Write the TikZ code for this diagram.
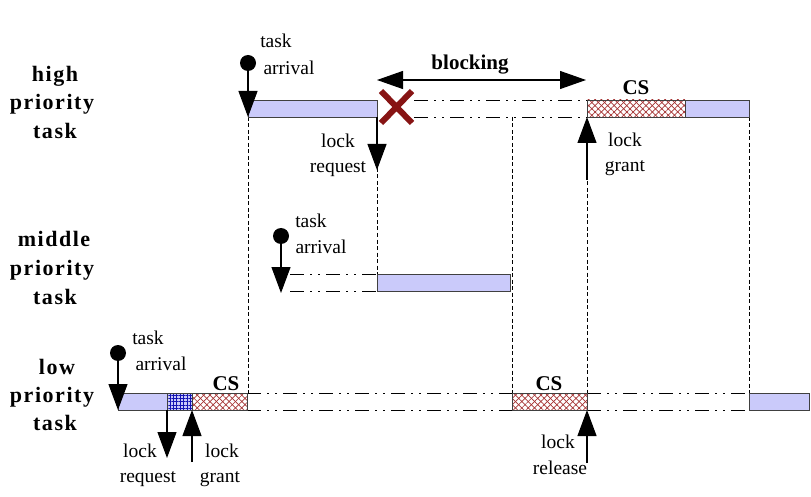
\documentclass[tikz,border=0pt]{standalone}
\usepackage{fontspec}
\setmainfont{Liberation Serif}
\usetikzlibrary{arrows.meta,patterns.meta}
\definecolor{barblue}{RGB}{202,202,250}
\definecolor{xred}{RGB}{135,20,20}
\definecolor{hatchred}{RGB}{165,50,50}
\definecolor{gridblue}{RGB}{20,20,180}
\begin{document}
\begin{tikzpicture}[x=1pt,y=-1pt,
  bar/.style={fill=barblue,draw=black!75,line width=0.8pt},
  csbar/.style={draw=black!75,line width=0.8pt,preaction={fill=white},
    preaction={pattern={Lines[angle=45,distance=4.5pt,line width=0.7pt]},pattern color=hatchred},
    preaction={pattern={Lines[angle=-45,distance=4.5pt,line width=0.7pt]},pattern color=hatchred}},
  gridbar/.style={draw=black!75,line width=0.8pt,preaction={fill=barblue},
    preaction={pattern={Lines[angle=0,distance=3.4pt,line width=0.7pt]},pattern color=gridblue},
    preaction={pattern={Lines[angle=90,distance=3.4pt,line width=0.7pt]},pattern color=gridblue}},
  sig/.style={line width=1.1pt,-{Triangle[length=26pt,width=19pt]}},
  ddot/.style={line width=0.9pt,dash pattern=on 14pt off 6pt on 2pt off 6pt on 2pt off 6pt},
  vdash/.style={line width=0.9pt,black,dash pattern=on 4pt off 2.5pt},
  lab/.style={font=\fontsize{19.5}{19.5}\selectfont,inner sep=0pt,anchor=base},
  bold/.style={font=\fontsize{21}{21}\selectfont\bfseries,inner sep=0pt,anchor=base},
  side/.style={font=\fontsize{22}{22}\selectfont\bfseries\addfontfeatures{LetterSpace=7},inner sep=0pt,anchor=base},
]
\useasboundingbox (0,0) rectangle (811,497);

% key coordinates
\coordinate (h1) at (248,100); \coordinate (h2) at (377,117);
\coordinate (hc1) at (587,100); \coordinate (hc2) at (685,117);
\coordinate (hb1) at (685,100); \coordinate (hb2) at (749,117);
\coordinate (m1) at (377,274); \coordinate (m2) at (510,291);
\coordinate (l1) at (118,393); \coordinate (l2) at (167,410);
\coordinate (lg1) at (167,393); \coordinate (lg2) at (192,410);
\coordinate (lc1) at (192,393); \coordinate (lc2) at (247,410);
\coordinate (lk1) at (512,393); \coordinate (lk2) at (587,410);
\coordinate (le1) at (749,393); \coordinate (le2) at (809,410);

% vertical dashed guides
\draw[vdash] (248,117) -- (248,393);
\draw[vdash] (377,168) -- (377,274);
\draw[vdash] (512,117) -- (512,393);
\draw[vdash] (587,175) -- (587,393);
\draw[vdash] (749,117) -- (749,393);

% dash-dot lines (waiting)
\draw[ddot] (414,100) -- (587,100);
\draw[ddot] (414,117) -- (587,117);
\draw[ddot] (290,274) -- (377,274);
\draw[ddot] (290,291) -- (377,291);
\draw[ddot] (247,393) -- (512,393);
\draw[ddot] (247,410) -- (512,410);
\draw[ddot] (587,393) -- (749,393);
\draw[ddot] (587,410) -- (749,410);

% bars
\draw[bar] (h1) rectangle (h2);
\draw[csbar] (hc1) rectangle (hc2);
\draw[bar] (hb1) rectangle (hb2);
\draw[bar] (m1) rectangle (m2);
\draw[bar] (l1) rectangle (l2);
\draw[gridbar] (lg1) rectangle (lg2);
\draw[csbar] (lc1) rectangle (lc2);
\draw[csbar] (lk1) rectangle (lk2);
\draw[bar] (le1) rectangle (le2);

% task arrivals
\coordinate (ha) at (248,63); \coordinate (hat) at (248,117);
\fill (ha) circle (8); \draw[sig] (ha) -- (hat);
\coordinate (ma) at (281,236); \coordinate (mat) at (281,293);
\fill (ma) circle (8); \draw[sig] (ma) -- (mat);
\coordinate (la) at (118,353); \coordinate (lat) at (118,410);
\fill (la) circle (8); \draw[sig] (la) -- (lat);

% lock arrows
\coordinate (hr0) at (377,117); \coordinate (hr1) at (377,170);
\draw[sig] (hr0) -- (hr1);
\coordinate (hg0) at (587,180); \coordinate (hg1) at (587,117);
\draw[sig] (hg0) -- (hg1);
\coordinate (lr0) at (167,410); \coordinate (lr1) at (167,458);
\draw[sig] (lr0) -- (lr1);
\coordinate (lgr0) at (192,462); \coordinate (lgr1) at (192,410);
\draw[sig] (lgr0) -- (lgr1);
\coordinate (rel0) at (587,463); \coordinate (rel1) at (587,410);
\draw[sig] (rel0) -- (rel1);

% blocking arrow
\coordinate (bl) at (377,80); \coordinate (br) at (586,80);
\draw[line width=1.1pt,{Triangle[length=26pt,width=18pt]}-{Triangle[length=26pt,width=18pt]}] (bl) -- (br);

% red cross
\draw[xred,line width=6pt] (381,91) -- (412,123) (381,123) -- (412,91);

% labels
\node[lab] (t1) at (276,48) {task};
\node[lab] (t2) at (289,75) {arrival};
\node[lab] (t3) at (311,227) {task};
\node[lab] (t4) at (321,254) {arrival};
\node[lab] (t5) at (148,344) {task};
\node[lab] (t6) at (161,370) {arrival};
\node[lab] (t7) at (338,148) {lock};
\node[lab] (t8) at (338,173) {request};
\node[lab] (t9) at (625,147) {lock};
\node[lab] (t10) at (625,172) {grant};
\node[lab] (t11) at (140,457) {lock};
\node[lab] (t12) at (148,482) {request};
\node[lab] (t13) at (222,457) {lock};
\node[lab] (t14) at (220,482) {grant};
\node[lab] (t15) at (558,448) {lock};
\node[lab] (t16) at (560,474) {release};
\node[bold] (b1) at (470,70) {blocking};
\node[bold] (c1) at (636,95) {CS};
\node[bold] (c2) at (226,390) {CS};
\node[bold] (c3) at (549,390) {CS};

\node[side] (s1) at (55,82) {high};
\node[side] (s2) at (52,110) {priority};
\node[side] (s3) at (55,139) {task};
\node[side] (s4) at (54,247) {middle};
\node[side] (s5) at (52,275) {priority};
\node[side] (s6) at (55,304) {task};
\node[side] (s7) at (57,374) {low};
\node[side] (s8) at (52,402) {priority};
\node[side] (s9) at (55,430) {task};
\end{tikzpicture}
\end{document}
